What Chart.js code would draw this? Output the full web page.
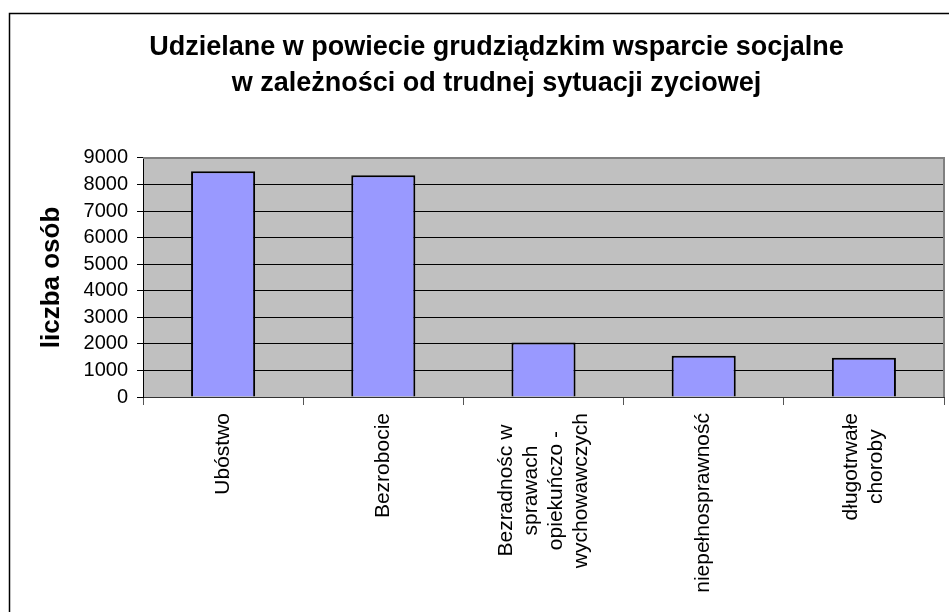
<!DOCTYPE html>
<html>
<head>
<meta charset="utf-8">
<script src="https://cdn.jsdelivr.net/npm/chart.js@4"></script>
<style>
  html, body { margin: 0; padding: 0; background: #fff; }
  #wrap { width: 949px; height: 612px; position: relative; }
</style>
</head>
<body>
<div id="wrap"><canvas id="chart"></canvas></div>
<script>
  const titleLines = [
    "Udzielane w powiecie grudziądzkim wsparcie socjalne",
    "w zależności od trudnej sytuacji zyciowej"
  ];
  const categories = [
    "Ubóstwo",
    "Bezrobocie",
    ["Bezradnośc w", "sprawach", "opiekuńczo -", "wychowawczych"],
    "niepełnosprawność",
    ["długotrwałe", "choroby"]
  ];
  const values = [8500, 8350, 2050, 1550, 1480];
  const yTicks = [0, 1000, 2000, 3000, 4000, 5000, 6000, 7000, 8000, 9000];
  const yTitle = "liczba osób";

  const FONT = "'Liberation Sans', Arial, sans-serif";

  // plot background, grey frame, outer frame edges and centred category labels
  const decor = {
    id: "decor",
    beforeDraw(chart) {
      const { ctx, chartArea: a } = chart;
      ctx.save();
      ctx.fillStyle = "#c0c0c0";
      ctx.fillRect(a.left, a.top, a.right - a.left, a.bottom - a.top);
      ctx.restore();
    },
    beforeDatasetsDraw(chart) {
      const { ctx, chartArea: a } = chart;
      ctx.save();
      ctx.strokeStyle = "#808080";
      ctx.lineWidth = 2;
      ctx.beginPath();
      ctx.moveTo(a.left, a.top);
      ctx.lineTo(a.right, a.top);
      ctx.lineTo(a.right, a.bottom);
      ctx.stroke();
      ctx.restore();
    },
    afterDraw(chart) {
      const { ctx } = chart;
      const xs = chart.scales.x;
      ctx.save();
      ctx.fillStyle = "#000";
      ctx.font = "21px " + FONT;
      ctx.textAlign = "center";
      ctx.textBaseline = "middle";
      const lh = 25;
      const top = xs.top + 16;
      categories.forEach(function (label, i) {
        const lines = Array.isArray(label) ? label : [label];
        const x = xs.getPixelForValue(i);
        let longest = 0;
        lines.forEach(function (l) { longest = Math.max(longest, ctx.measureText(l).width); });
        lines.forEach(function (l, j) {
          ctx.save();
          ctx.translate(x + (j - (lines.length - 1) / 2) * lh, top + longest / 2);
          ctx.rotate(-Math.PI / 2);
          ctx.fillText(l, 0, 0);
          ctx.restore();
        });
      });
      // the picture is cropped: only the top and left edge of the outer frame show
      ctx.strokeStyle = "#000";
      ctx.lineWidth = 1.5;
      ctx.beginPath();
      ctx.moveTo(9.5, 612);
      ctx.lineTo(9.5, 13.5);
      ctx.lineTo(949, 13.5);
      ctx.stroke();
      ctx.restore();
    }
  };

  new Chart(document.getElementById("chart"), {
    type: "bar",
    data: {
      labels: categories,
      datasets: [{
        data: values,
        backgroundColor: "#9999ff",
        borderColor: "#000",
        borderWidth: 2,
        barPercentage: 0.4,
        categoryPercentage: 1
      }]
    },
    options: {
      responsive: true,
      maintainAspectRatio: false,
      animation: false,
      layout: { padding: { left: 49, right: 5, top: 0, bottom: 0 } },
      plugins: {
        legend: { display: false },
        tooltip: { enabled: false },
        title: {
          display: true,
          text: titleLines,
          color: "#000",
          font: { family: FONT, size: 27, weight: "bold", lineHeight: 1.333 },
          padding: { top: 30, bottom: 56 }
        }
      },
      scales: {
        x: {
          grid: { drawOnChartArea: false, drawTicks: true, tickLength: 8, tickColor: "#555", offset: true },
          border: { color: "#333", width: 1 },
          ticks: { display: false },
          afterFit(scale) { scale.height = 215; }
        },
        y: {
          min: 0,
          max: 9000,
          afterBuildTicks(scale) { scale.ticks = yTicks.map((v) => ({ value: v })); },
          grid: { color: "#000", lineWidth: 1, tickLength: 6, tickColor: "#000" },
          border: { color: "#000", width: 1 },
          ticks: {
            color: "#000",
            padding: 9,
            autoSkip: false,
            font: { family: FONT, size: 20 },
            callback: (v) => String(v)
          },
          title: {
            display: true,
            text: yTitle,
            color: "#000",
            font: { family: FONT, size: 26, weight: "bold" },
            padding: { top: -13, bottom: 0 }
          },
          afterFit(scale) { scale.width = 94; }
        }
      }
    },
    plugins: [decor]
  });
</script>
</body>
</html>
